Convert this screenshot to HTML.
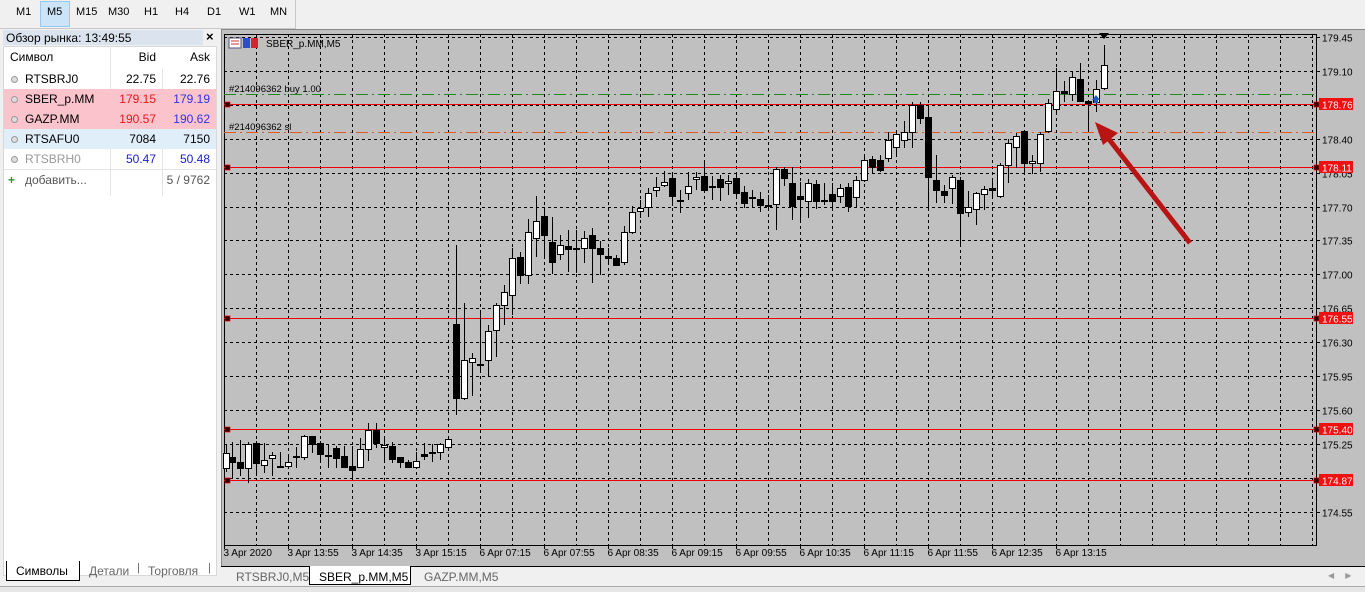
<!DOCTYPE html>
<html><head><meta charset="utf-8"><style>
*{margin:0;padding:0;box-sizing:border-box}
body{width:1365px;height:592px;overflow:hidden;background:#f0f0f0;font-family:"Liberation Sans","DejaVu Sans",sans-serif;font-size:11px;position:relative}
.abs{position:absolute}
.tb{top:0;left:0;width:296px;height:29px;border-right:1px solid #c8c8c8;border-bottom:1px solid #c8c8c8}
.tb span{position:absolute;top:6px;font-size:11px;color:#000}
#panel{left:0;top:29px;width:220px;height:563px;background:#f0f0f0}
.row{position:absolute;left:4px;width:212px;height:20px;font-size:12px}
.row span{position:absolute;top:3px}
.dot{position:absolute;left:7px;top:7px;width:7px;height:7px;border-radius:50%;border:1.5px solid #999;background:#ddd}
</style></head><body>
<div class="abs tb">
<div class="abs" style="left:40px;top:1px;width:30px;height:26px;background:#cce4f7;border:1px solid #99c9ef"></div>
<span style="left:16px">M1</span><span style="left:47px">M5</span><span style="left:76px">M15</span><span style="left:108px">M30</span><span style="left:144px">H1</span><span style="left:175px">H4</span><span style="left:207px">D1</span><span style="left:239px">W1</span><span style="left:270px">MN</span>
</div>
<div class="abs" id="panel">
<div class="abs" style="left:3px;top:1px;width:200px;height:15px;background:#dbe4ee"></div>
<div class="abs" style="left:6px;top:2px;font-size:12px">Обзор рынка: 13:49:55</div>
<div class="abs" style="left:206px;top:0px;font-size:13px;font-weight:bold">×</div>
<div class="abs" style="left:3px;top:17px;width:214px;height:530px;background:#fff;border:1px solid #d8d8d8"></div>
<div class="row" style="top:18px"><span style="left:6px">Символ</span><span style="right:60px">Bid</span><span style="right:6px">Ask</span></div>
<div class="abs" style="left:110px;top:17px;width:1px;height:150px;background:#e4e4e4"></div>
<div class="abs" style="left:162px;top:40px;width:1px;height:127px;background:#e4e4e4"></div>
<div class="row" style="top:40px"><i class="dot"></i><span style="left:21px">RTSBRJ0</span><span style="right:60px">22.75</span><span style="right:6px">22.76</span></div>
<div class="row" style="top:60px;background:#fbc4cc"><i class="dot"></i><span style="left:21px">SBER_p.MM</span><span style="right:60px;color:#e8141e">179.15</span><span style="right:6px;color:#3030e8">179.19</span></div>
<div class="row" style="top:80px;background:#fbc4cc"><i class="dot"></i><span style="left:21px">GAZP.MM</span><span style="right:60px;color:#e8141e">190.57</span><span style="right:6px;color:#3030e8">190.62</span></div>
<div class="row" style="top:100px;background:#e0eef9"><i class="dot"></i><span style="left:21px">RTSAFU0</span><span style="right:60px">7084</span><span style="right:6px">7150</span></div>
<div class="row" style="top:120px"><i class="dot"></i><span style="left:21px;color:#999">RTSBRH0</span><span style="right:60px;color:#1a1acc">50.47</span><span style="right:6px;color:#1a1acc">50.48</span></div>
<div class="row" style="top:140px;border-top:1px solid #e4e4e4"><span style="left:4px;color:#2a9a2a;font-weight:bold">+</span><span style="left:21px;color:#555">добавить...</span><span style="right:6px;color:#555">5 / 9762</span></div>
<div class="abs" style="left:6px;top:532px;width:74px;height:20px;background:#fff;border:1px solid #000;border-top:none"></div>
<div class="abs" style="left:16px;top:535px;font-size:12px">Символы</div>
<div class="abs" style="left:89px;top:535px;font-size:12px;color:#666">Детали</div>
<div class="abs" style="left:137px;top:533px;color:#666">|</div>
<div class="abs" style="left:148px;top:535px;font-size:12px;color:#666">Торговля</div>
<div class="abs" style="left:208px;top:533px;color:#666">|</div>
</div>
<div class="abs" style="left:221px;top:29px;width:1144px;height:537px;background:#c0c0c0;border-left:1px solid #888;border-top:1px solid #888"></div>
<svg class="abs" style="left:0;top:0" width="1365" height="592" id="s" font-family="Liberation Sans, sans-serif" font-size="10"></svg>
<div class="abs" style="left:221px;top:566px;width:1144px;height:20px;background:#f0f0f0;border-top:1px solid #000"></div>
<div class="abs" style="left:309px;top:566px;width:102px;height:19px;background:#fff;border:1px solid #000;border-top:none"></div>
<div class="abs" style="left:236px;top:570px;font-size:12px;color:#666">RTSBRJ0,M5</div>
<div class="abs" style="left:319px;top:570px;font-size:12px">SBER_p.MM,M5</div>
<div class="abs" style="left:424px;top:570px;font-size:12px;color:#666">GAZP.MM,M5</div>
<div class="abs" style="left:1328px;top:571px;font-size:8px;color:#999">◀&nbsp;&nbsp;&nbsp;&nbsp;&nbsp;▶</div>
<div class="abs" style="left:0;top:586px;width:1365px;height:6px;background:#e6e6e6;border-top:1px solid #aaa"></div>
<script>
var s=document.getElementById('s'),h='';
for(var x=256;x<=1312;x+=32)h+='<line x1="'+(x+.5)+'" y1="34" x2="'+(x+.5)+'" y2="545" stroke="#000" stroke-dasharray="3,3"/>';
var labs=['179.45','179.10','','178.40','178.05','177.70','177.35','177.00','176.65','176.30','175.95','175.60','175.25','','174.55'];
for(var k=0;k<15;k++){var y=Math.round(37+33.9*k)+.5;h+='<line x1="224" y1="'+y+'" x2="1316" y2="'+y+'" stroke="#000" stroke-dasharray="3,3"/><line x1="1316" y1="'+y+'" x2="1320" y2="'+y+'" stroke="#000"/>';if(labs[k])h+='<text x="1322" y="'+(y+4)+'">'+labs[k]+'</text>';}
h+='<rect x="224.5" y="34.5" width="1092" height="511" fill="none" stroke="#000"/>';
var tl=['3 Apr 2020','3 Apr 13:55','3 Apr 14:35','3 Apr 15:15','6 Apr 07:15','6 Apr 07:55','6 Apr 08:35','6 Apr 09:15','6 Apr 09:55','6 Apr 10:35','6 Apr 11:15','6 Apr 11:55','6 Apr 12:35','6 Apr 13:15'];
for(var i=0;i<tl.length;i++){var x=224+64*i+.5;h+='<line x1="'+x+'" y1="545" x2="'+x+'" y2="549" stroke="#000"/><text x="'+(x-1)+'" y="556">'+tl[i]+'</text>';}
h+='<line x1="224" y1="94.5" x2="1316" y2="94.5" stroke="#228822" stroke-dasharray="12,4,2,4"/>';
h+='<line x1="224" y1="132.5" x2="1316" y2="132.5" stroke="#e05a20" stroke-dasharray="12,4,2,4"/>';
h+='<text x="229" y="92" font-size="9.5">#214096362 buy 1.00</text><text x="229" y="130" font-size="9.5">#214096362 sl</text>';
[[104,'178.76'],[167,'178.11'],[318,'176.55'],[429,'175.40'],[480,'174.87']].forEach(function(r){var y=r[0]+.5;h+='<line x1="224" y1="'+y+'" x2="1316" y2="'+y+'" stroke="#f00000" stroke-width="1"/><rect x="225" y="'+(y-2.5)+'" width="5" height="5" fill="#200" stroke="#e00" stroke-width=".7"/><rect x="1314" y="'+(y-2.5)+'" width="5" height="5" fill="#200" stroke="#e00" stroke-width=".7"/><rect x="1319" y="'+(y-6.5)+'" width="34" height="12" fill="#f01010"/><text x="1322" y="'+(y+4)+'" fill="#fff">'+r[1]+'</text>';});
var c=[[226,453,468,445,472,1],[232,457,462,442,478,0],[240,462,468,440,476,0],[248,444,468,442,483,1],[256,443,463,441,476,0],[264,460,465,443,473,1],[272,455,458,452,476,1],[280,466,467,452,467,0],[288,462,466,456,468,1],[296,456,457,447,468,0],[304,436,457,435,460,1],[312,436,444,436,453,0],[320,443,454,441,460,0],[328,455,456,445,468,0],[336,448,458,446,468,0],[344,456,467,446,468,0],[352,466,470,446,480,0],[360,449,467,438,468,1],[368,430,449,423,461,1],[376,430,443,423,448,0],[384,445,447,439,461,1],[392,446,459,442,463,0],[400,457,462,457,468,0],[408,462,467,460,468,0],[416,461,467,452,467,1],[424,454,456,443,460,0],[432,452,453,444,462,0],[440,444,452,443,460,1],[448,439,447,438,447,1],
[456,324,398,245,415,0],[464,360,398,303,400,1],[472,358,362,353,396,1],[480,364,365,313,370,0],[488,331,360,325,377,1],[496,305,330,303,357,1],[504,292,305,285,325,1],[512,258,295,248,315,1],[520,257,275,252,284,0],[528,232,275,219,284,1],[536,221,238,196,257,1],[544,216,235,211,258,0],[552,242,262,217,274,0],[560,245,254,235,260,1],[568,246,249,230,272,0],[576,248,249,230,273,0],[584,238,248,231,263,1],[592,235,248,228,283,0],[600,248,254,241,275,0],[608,256,258,248,262,0],[616,258,265,255,266,0],[624,232,262,226,265,1],[632,212,232,206,234,1],[640,208,211,200,218,1],[648,193,207,188,217,1],[656,187,190,177,197,1],[664,182,185,171,187,1],[672,178,196,172,206,0],[680,200,201,190,213,0],[688,186,193,172,200,1],[696,177,179,172,190,1],[704,176,190,160,192,0],[712,186,187,176,200,0],[720,179,187,175,201,0],[728,181,183,175,195,1],[736,178,193,174,196,0],[744,192,203,186,208,0],[752,197,198,190,208,0],[760,199,205,192,212,0],[768,205,206,195,210,0],[776,169,204,167,230,1],[784,169,178,167,186,0],[792,183,206,167,220,0],[800,196,199,182,221,0],[808,183,201,179,218,1],[816,184,201,180,209,0],[824,200,201,183,205,0],[832,194,201,183,209,0],[840,188,196,184,203,1],[848,187,206,183,212,0],[856,180,197,176,207,1],[864,160,180,155,182,1],[872,159,167,156,174,0],[880,160,170,155,172,0],[888,140,158,132,162,1],[896,134,147,132,155,1],[904,132,140,121,148,1],[912,105,132,102,148,1],[920,105,118,102,124,0],[928,117,177,105,210,0],[936,180,190,155,203,0],[944,191,195,185,203,0],[952,177,188,175,204,1],[960,180,213,177,244,0],[968,207,212,191,217,1],[976,193,209,192,225,1],[984,189,194,186,210,1],[992,188,190,180,198,0],[1000,165,196,163,198,1],[1008,143,165,139,183,1],[1016,136,147,133,168,1],[1024,131,163,130,174,0],[1032,161,163,155,174,1],[1040,134,163,132,172,1],[1048,103,131,99,133,1],[1056,91,109,68,112,1],[1064,91,93,81,102,0],[1072,77,94,72,101,1],[1080,79,101,63,102,0],[1088,101,103,100,131,0],[1096,89,102,80,112,1],[1104,65,88,45,90,1]];
c.forEach(function(d){var x=d[0]+.5;h+='<line x1="'+x+'" y1="'+d[3]+'" x2="'+x+'" y2="'+d[4]+'" stroke="#000"/>';var bh=Math.max(1,d[2]-d[1]);h+='<rect x="'+(d[0]-2.5)+'" y="'+(d[1]+.5)+'" width="6" height="'+bh+'" fill="'+(d[5]?'#fff':'#000')+'" stroke="#000"/>';});
h+='<path d="M1099 33 L1109 33 L1104 39Z" fill="#000"/>';
h+='<path d="M1096 95 L1100 100 L1098 100 L1098 103 L1094 103 L1094 100 L1092 100Z" fill="#1a5fc8"/>';
h+='<line x1="1190" y1="243" x2="1108" y2="138" stroke="#b81414" stroke-width="5"/><path d="M1095 122 L1118 133 L1103 145Z" fill="#b81414"/>';
h+='<rect x="229" y="38" width="12" height="10" fill="#fff" stroke="#557"/><line x1="231" y1="41" x2="239" y2="41" stroke="#c33"/><line x1="231" y1="44" x2="239" y2="44" stroke="#c33"/><rect x="243" y="38" width="7" height="10" fill="#2850c8"/><rect x="251" y="38" width="7" height="10" fill="#d02828"/>';
h+='<text x="266" y="47" font-size="10">SBER_p.MM,M5</text>';
s.innerHTML=h;
</script>
</body></html>
